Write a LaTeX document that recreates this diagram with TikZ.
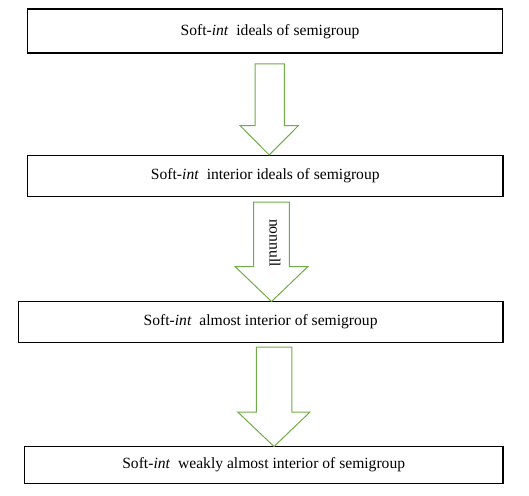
\documentclass[tikz,border=0pt]{standalone}
\usepackage{fontspec}
\setmainfont{Liberation Serif}
\definecolor{arrgreen}{RGB}{112,173,71}
\begin{document}
\begin{tikzpicture}[x=1pt,y=-1pt,
  box/.style={draw=black,line width=1.2pt,rectangle,inner sep=0pt,font=\fontsize{15.6}{18}\selectfont},
  blockarrow/.style={draw=arrgreen,line width=1pt,fill=white},
  lbl/.style={font=\fontsize{15.6}{18}\selectfont,inner sep=0pt}]
\useasboundingbox (0,0) rectangle (529,495);
\node[box,minimum width=475pt,minimum height=44pt] (b1) at (265.2,31) {};
\node[lbl] (t1) at (270,31.5) {Soft-\textit{int}\ \ ideals of semigroup};
\node[box,minimum width=475.5pt,minimum height=41.5pt] (b2) at (265.3,176) {Soft-\textit{int}\ \ interior ideals of semigroup};
\node[box,minimum width=484.8pt,minimum height=40.6pt] (b3) at (260.6,322) {Soft-\textit{int}\ \ almost interior of semigroup};
\node[box,minimum width=478.7pt,minimum height=37.4pt] (b4) at (263.7,465) {Soft-\textit{int}\ \ weakly almost interior of semigroup};
\draw[blockarrow] (255,63.8) -- (284.4,63.8) -- (284.4,125.5) -- (298.5,125.5) -- (269.2,155) -- (240,125.5) -- (255,125.5) -- cycle;
\draw[blockarrow] (253.5,202) -- (289.4,202) -- (289.4,266.5) -- (308,266.5) -- (271.5,301.5) -- (235,266.5) -- (253.5,266.5) -- cycle;
\draw[blockarrow] (256.4,347.2) -- (291.8,347.2) -- (291.8,412) -- (310,412) -- (274,446.5) -- (237.7,412) -- (256.4,412) -- cycle;
\node[lbl,rotate=-90] (nn) at (275,243) {nonnull};
\end{tikzpicture}
\end{document}
